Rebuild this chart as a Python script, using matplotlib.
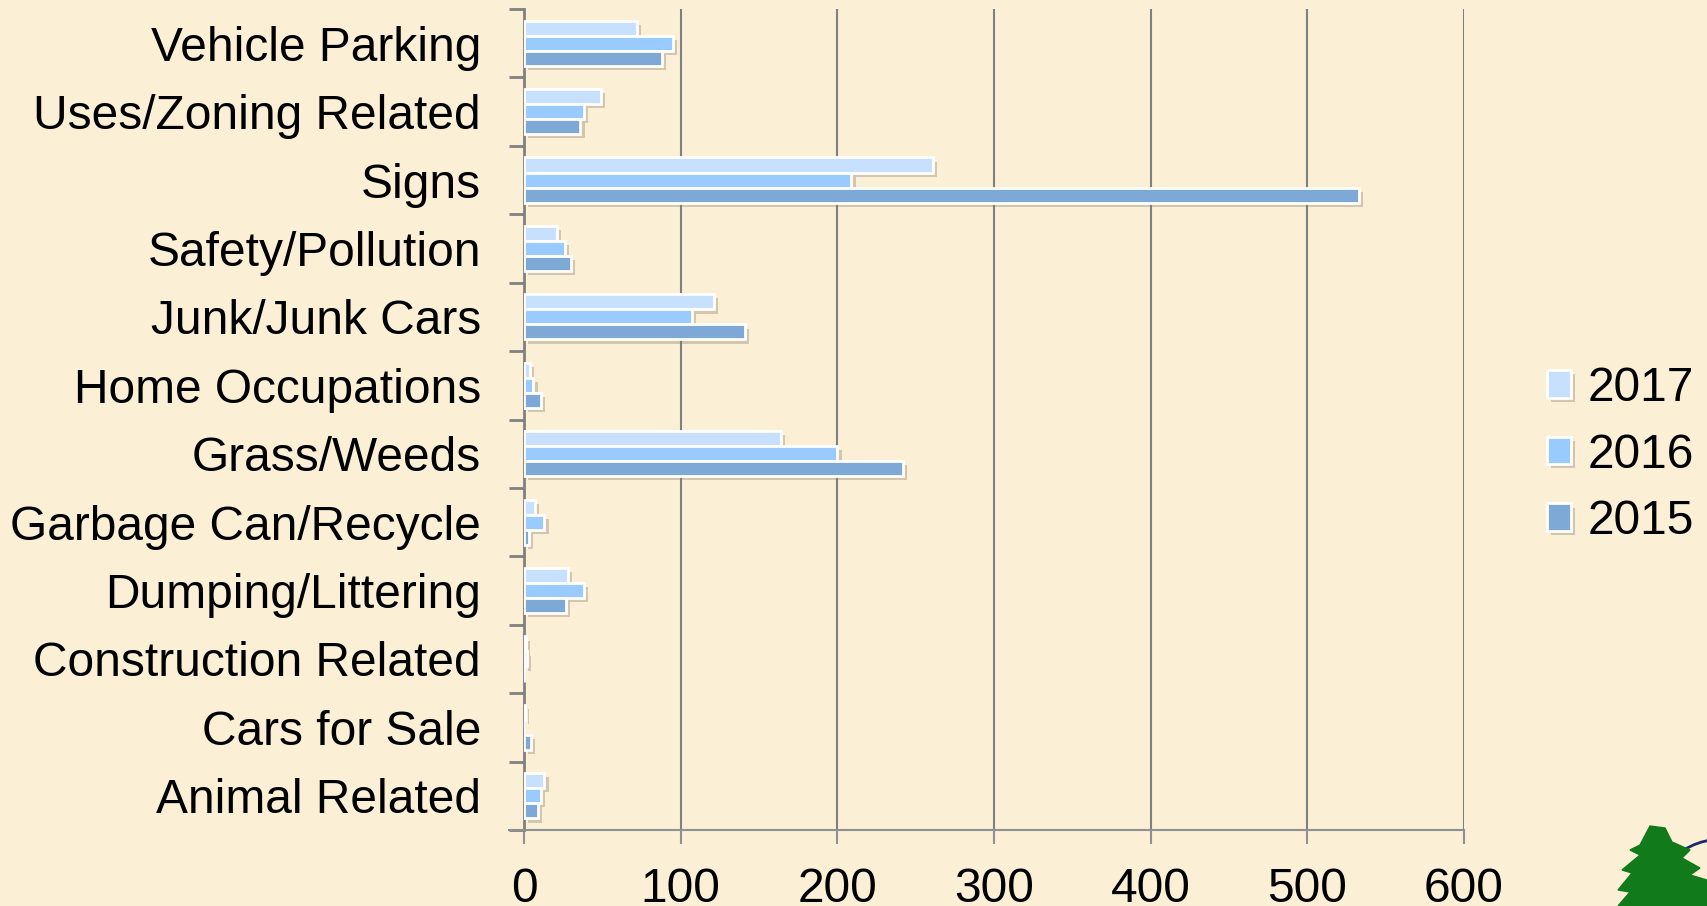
import matplotlib
matplotlib.use("Agg")
import matplotlib.pyplot as plt
import matplotlib.patheffects as pe
from matplotlib.patches import Polygon, Arc
from matplotlib.lines import Line2D
import numpy as np

categories = ["Vehicle Parking", "Uses/Zoning Related", "Signs", "Safety/Pollution",
              "Junk/Junk Cars", "Home Occupations", "Grass/Weeds", "Garbage Can/Recycle",
              "Dumping/Littering", "Construction Related", "Cars for Sale", "Animal Related"]
v2017 = [72, 49, 261, 21, 121, 4, 164, 7, 28, 1, 0.5, 13]
v2016 = [95, 38, 209, 26, 107, 6, 200, 13, 38, 1.7, 0, 11]
v2015 = [88, 36, 533, 30, 141, 11, 242, 3, 27, 0, 4.5, 9]
series = [("2017", v2017, "#c6e0fe"), ("2016", v2016, "#99cbfe"), ("2015", v2015, "#7ea8d5")]
xticks = [0, 100, 200, 300, 400, 500, 600]

plt.rcParams['font.family'] = ['Liberation Sans', 'DejaVu Sans']
bg = "#fbefd6"
W, H = 1707, 906
fig = plt.figure(figsize=(W / 100, H / 100), dpi=100, facecolor=bg)
ax = fig.add_axes([524 / W, 1 - 830 / H, (1464 - 524) / W, (830 - 9) / H])
ax.set_facecolor(bg)

y = np.arange(len(categories))
h = 0.22
offsets = [-h, 0, h]
shadow = [pe.SimplePatchShadow(offset=(3, -3), shadow_rgbFace="#8a7a60", alpha=0.35), pe.Normal()]
handles = []
for (name, vals, col), off in zip(series, offsets):
    bars = ax.barh(y + off, vals, height=h, color=col, edgecolor="white", linewidth=2, label=name, zorder=3)
    for b in bars:
        b.set_path_effects(shadow)
    handles.append(bars)

ax.set_xlim(0, 600)
ax.set_ylim(len(categories) - 0.5, -0.5)
ax.set_xticks(xticks)
ax.set_xticklabels([str(t) for t in xticks])
ax.set_yticks(y)
ax.set_yticklabels(categories)
ax.set_yticks(np.arange(len(categories) + 1) - 0.5, minor=True)
ax.tick_params(axis='y', which='major', length=0, pad=31, labelsize=34.5)
ax.tick_params(axis='y', which='minor', length=11, width=2, color="#808080")
ax.tick_params(axis='x', which='major', length=10, width=1.5, color="#909090", pad=17, labelsize=34.5)
ax.grid(axis='x', color="#808080", linewidth=1.5, zorder=0)
ax.set_axisbelow(True)
for s in ["top", "right"]:
    ax.spines[s].set_visible(False)
ax.spines["left"].set_color("#808080")
ax.spines["left"].set_linewidth(2)
ax.spines["bottom"].set_color("#909090")
ax.spines["bottom"].set_linewidth(1.5)
fig.add_artist(Line2D([509 / W, 524 / W], [1 - 830 / H, 1 - 830 / H], color="#909090", lw=1.5))

leg = fig.legend(handles=handles, labels=[s[0] for s in series], loc="center left",
                 bbox_to_anchor=(1547 / W, 1 - 455 / H), frameon=False, fontsize=34.5,
                 handlelength=0.5, handleheight=0.5, handletextpad=0.35, labelspacing=0.45,
                 borderpad=0, borderaxespad=0)

def fx(px):
    return px / W
def fy(py):
    return 1 - py / H
arc = Arc((fx(1720), fy(930)), 0.09, 0.2, theta1=90, theta2=180, color="#1a2a6a", lw=2,
          transform=fig.transFigure)
fig.add_artist(arc)
tree_pts = [(1650, 826), (1640, 845), (1630, 850), (1640, 855), (1622, 870), (1632, 873),
            (1618, 890), (1630, 892), (1618, 906), (1707, 906), (1707, 880), (1690, 875),
            (1700, 868), (1682, 858), (1690, 850), (1672, 842), (1665, 828)]
fig.add_artist(Polygon([(fx(a), fy(b)) for a, b in tree_pts], closed=True, color="#117a1a",
                       transform=fig.transFigure))

fig.savefig("out.png", dpi=100, facecolor=bg)
